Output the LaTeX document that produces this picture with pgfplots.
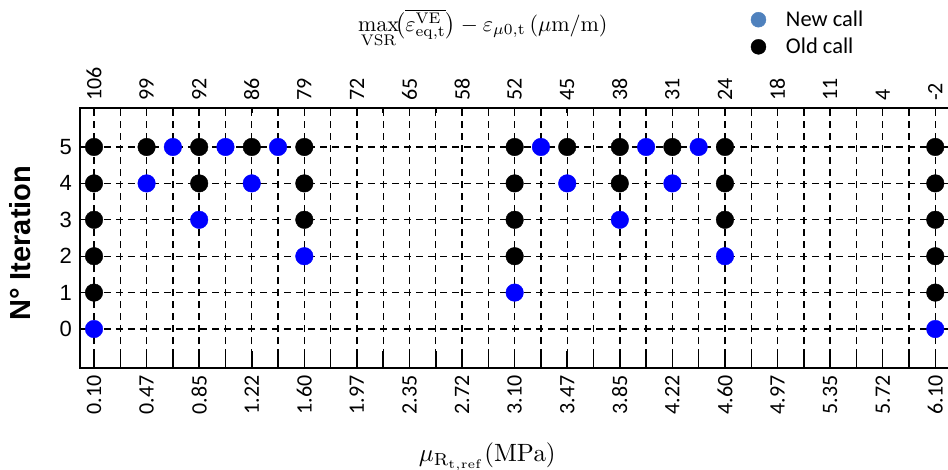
\documentclass[border=0pt]{standalone}
\usepackage{graphicx}
\usepackage[no-math]{fontspec}
\setmainfont{Carlito}
\newfontfamily\arialf{Liberation Sans}
\usepackage{pgfplots}
\pgfplotsset{compat=1.18}
\definecolor{ptblue}{RGB}{0,0,255}
\definecolor{legblue}{RGB}{79,129,189}
\begin{document}
\begin{tikzpicture}
\begin{axis}[
  at={(0pt,0pt)}, anchor=south west,
  scale only axis, width=870pt, height=260pt,
  xmin=0, xmax=6.205, ymin=-1.071, ymax=6.071,
  axis line style={line width=1.6pt},
  xtick={0.1,0.475,0.85,1.225,1.6,1.975,2.35,2.725,3.1,3.475,3.85,4.225,4.6,4.975,5.35,5.725,6.1},
  xticklabels={0.10,0.47,0.85,1.22,1.60,1.97,2.35,2.72,3.10,3.47,3.85,4.22,4.60,4.97,5.35,5.72,6.10},
  minor xtick={0.2875,0.6625,1.0375,1.4125,1.7875,2.1625,2.5375,2.9125,3.2875,3.6625,4.0375,4.4125,4.7875,5.1625,5.5375,5.9125},
  xtick pos=bottom,
  tick align=inside,
  major tick length=17pt, minor tick length=17pt,
  xtick style={line width=1.5pt, black},
  every minor tick/.append style={line width=1.5pt, black},
  ytick={0,1,2,3,4,5},
  yticklabels={0,1,2,3,4,5},
  ytick style={draw=none},
  xmajorgrids, xminorgrids, ymajorgrids,
  major grid style={black, line width=1.4pt, dash pattern=on 7pt off 5pt},
  minor grid style={black, line width=1.4pt, dash pattern=on 7pt off 5pt},
  xticklabel style={rotate=90, anchor=east, inner xsep=7pt, inner ysep=0pt, font=\fontsize{22}{24}\selectfont},
  yticklabel style={anchor=east, inner xsep=8pt, font=\arialf\fontsize{22}{24}\selectfont},
  ylabel={\arialf\bfseries N° Iteration},
  ylabel style={at={(axis description cs:-0.0685,0.48)}, rotate=0, anchor=center, font=\fontsize{29}{32}\selectfont},
  xlabel={\scalebox{2.5}{$\mu_{\mathrm{R}_{\mathrm{t,ref}}}(\mathrm{MPa})$}},
  xlabel style={at={(axis description cs:0.468,-0.3604)}, anchor=base},
  legend style={draw=none, fill=none, at={(axis description cs:0.771,1.381)}, anchor=north west, inner sep=0pt, font=\fontsize{22.5}{26}\selectfont, row sep=6pt,
    /tikz/every odd column/.append style={column sep=18pt}},
  legend cell align=left,
  clip=false,
]
\addlegendimage{only marks, mark=*, mark size=7.5pt, color=legblue}
\addlegendentry{New call}
\addlegendimage{only marks, mark=*, mark size=7.5pt, color=black}
\addlegendentry{Old call}
\addplot[only marks, mark=*, mark size=8.8pt, color=ptblue, forget plot] table {
x y
0.1 0
6.1 0
3.1 1
1.6 2
4.6 2
0.85 3
3.85 3
0.475 4
1.225 4
3.475 4
4.225 4
0.6625 5
1.0375 5
1.4125 5
3.2875 5
4.0375 5
4.4125 5
};
\addplot[only marks, mark=*, mark size=8.8pt, color=black, forget plot] table {
x y
0.1 1
6.1 1
0.1 2
3.1 2
6.1 2
0.1 3
1.6 3
3.1 3
4.6 3
6.1 3
0.1 4
0.85 4
1.6 4
3.1 4
3.85 4
4.6 4
6.1 4
0.1 5
0.475 5
0.85 5
1.225 5
1.6 5
3.1 5
3.475 5
3.85 5
4.225 5
4.6 5
6.1 5
};
\end{axis}
\begin{axis}[
  at={(0pt,0pt)}, anchor=south west,
  scale only axis, width=870pt, height=260pt,
  xmin=0, xmax=6.205, ymin=-1.071, ymax=6.071,
  axis x line*=top, axis y line=none,
  axis line style={line width=1.6pt, -},
  xtick={0.1,0.475,0.85,1.225,1.6,1.975,2.35,2.725,3.1,3.475,3.85,4.225,4.6,4.975,5.35,5.725,6.1},
  xticklabels={106,99,92,86,79,72,65,58,52,45,38,31,24,18,11,4,-2},
  minor xtick={0.2875,0.6625,1.0375,1.4125,1.7875,2.1625,2.5375,2.9125,3.2875,3.6625,4.0375,4.4125,4.7875,5.1625,5.5375,5.9125},
  tick align=inside,
  major tick length=5pt, minor tick length=5pt,
  xtick style={line width=1.5pt, black},
  every minor tick/.append style={line width=1.5pt, black},
  xticklabel style={rotate=90, anchor=west, inner xsep=7pt, inner ysep=0pt, font=\fontsize{22}{24}\selectfont},
  xlabel={\scalebox{2.2}{$\max\limits_{\mathrm{VSR}}\!\bigl(\overline{\varepsilon^{\mathrm{VE}}_{\mathrm{eq,t}}}\bigr)-\varepsilon_{\mu 0,\mathrm{t}}\,(\mu\mathrm{m/m})$}},
  xlabel style={at={(axis description cs:0.463,1.294)}, anchor=base},
]
\end{axis}
\pgfresetboundingbox
\useasboundingbox (-80pt,-101pt) rectangle (868pt,368pt);
\end{tikzpicture}
\end{document}
